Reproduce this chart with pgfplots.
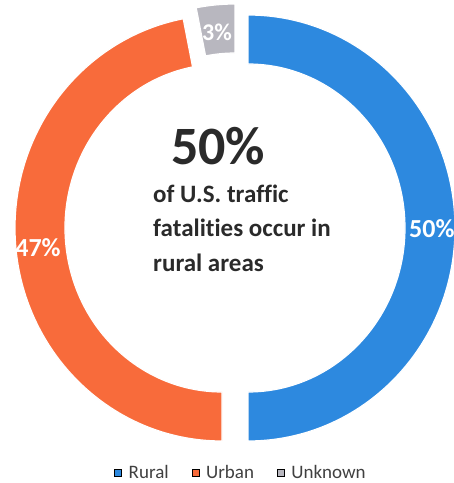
\documentclass[border=0pt]{standalone}
\usepackage{pgfplots}
\usepackage{pgfplotstable}
\pgfplotsset{compat=1.18}
\usepackage{fontspec}
\setmainfont{Carlito}[Ligatures=NoCommon]
\definecolor{rural}{HTML}{2D89DF}
\definecolor{urban}{HTML}{F86B3B}
\definecolor{unknown}{HTML}{B8B7BF}
\definecolor{ctext}{HTML}{2A2A2A}
\definecolor{ltext}{HTML}{404040}

% share of U.S. traffic fatalities; dx, dy = how far each slice is pulled out (px)
\pgfplotstableread{
label   value dx  dy
Rural   50    13  0
Urban   47    -13 0
Unknown 3     0   11
}\slices

\pgfplotstablegetelem{0}{value}\of\slices \let\vR\pgfplotsretval
\pgfplotstablegetelem{1}{value}\of\slices \let\vU\pgfplotsretval
\pgfplotstablegetelem{2}{value}\of\slices \let\vK\pgfplotsretval
\pgfplotstablegetelem{0}{dx}\of\slices \let\dxR\pgfplotsretval
\pgfplotstablegetelem{1}{dx}\of\slices \let\dxU\pgfplotsretval
\pgfplotstablegetelem{2}{dx}\of\slices \let\dxK\pgfplotsretval
\pgfplotstablegetelem{0}{dy}\of\slices \let\dyR\pgfplotsretval
\pgfplotstablegetelem{1}{dy}\of\slices \let\dyU\pgfplotsretval
\pgfplotstablegetelem{2}{dy}\of\slices \let\dyK\pgfplotsretval
\pgfmathsetmacro\tot{\vR+\vU+\vK}
\pgfmathsetmacro\aO{90}
\pgfmathsetmacro\aR{\aO-\vR/\tot*360}
\pgfmathsetmacro\aU{\aR-\vU/\tot*360}
\pgfmathsetmacro\aK{\aU-\vK/\tot*360}
\pgfmathsetmacro\cxR{235+\dxR}\pgfmathsetmacro\cyR{255+\dyR}
\pgfmathsetmacro\cxU{235+\dxU}\pgfmathsetmacro\cyU{255+\dyU}
\pgfmathsetmacro\cxK{235+\dxK}\pgfmathsetmacro\cyK{255+\dyK}

% #1 cx, #2 cy, #3 start angle, #4 end angle, #5 colour
\newcommand\slice[5]{%
  \filldraw[fill=#5, draw=white, line width=1.2pt]
    (axis cs:#1,#2) ++(#3:207pt and 213pt)
    arc[start angle=#3, end angle=#4, x radius=207pt, y radius=213pt]
    -- ++(#4:-50pt and -49pt)
    arc[start angle=#4, end angle=#3, x radius=157pt, y radius=164pt]
    -- cycle;}

\begin{document}
\begin{tikzpicture}
\begin{axis}[
  x=1pt, y=1pt,
  xmin=0, xmax=454, ymin=0, ymax=483,
  hide axis,
  legend columns=3,
  legend style={
    at={(axis cs:240,10)}, anchor=center,
    draw=none, fill=none, inner sep=0pt,
    font=\fontsize{19}{22}\selectfont\color{ltext},
    nodes={inner sep=0pt},
    /tikz/every odd column/.append style={column sep=7pt},
    /tikz/every even column/.append style={column sep=23pt},
  },
  legend image code/.code={\fill[#1] (0pt,-3.5pt) rectangle (7pt,3.5pt);},
]
\slice{\cxR}{\cyR}{\aO}{\aR}{rural}
\slice{\cxU}{\cyU}{\aR}{\aU}{urban}
\slice{\cxK}{\cyK}{\aU}{\aK}{unknown}

\addlegendimage{fill=rural}
\addlegendentry{Rural}
\addlegendimage{fill=urban}
\addlegendentry{Urban}
\addlegendimage{fill=unknown}
\addlegendentry{Unknown}

% slice labels
\node[white, font=\bfseries\fontsize{26}{28}\selectfont, anchor=center] at (axis cs:38,235) {47\%};
\node[white, font=\bfseries\fontsize{26}{28}\selectfont, anchor=west, inner sep=0pt] at (axis cs:409,254) {50\%};
\node[white, font=\bfseries\fontsize{24}{26}\selectfont, anchor=center] at (axis cs:217,451) {3\%};

% centre text
\node[ctext, font=\bfseries\fontsize{54}{60}\selectfont, anchor=base west, inner sep=0pt] at (axis cs:171,318) {50\%};
\node[ctext, font=\bfseries\fontsize{25}{30}\selectfont, anchor=base west, inner sep=0pt] at (axis cs:153,280) {of U.S. traffic};
\node[ctext, font=\bfseries\fontsize{25}{30}\selectfont, anchor=base west, inner sep=0pt] at (axis cs:153,246) {fatalities occur in};
\node[ctext, font=\bfseries\fontsize{25}{30}\selectfont, anchor=base west, inner sep=0pt] at (axis cs:153,211) {rural areas};
\end{axis}
\pgfresetboundingbox
\path (current axis.south west) rectangle (current axis.north east);
\end{tikzpicture}
\end{document}
